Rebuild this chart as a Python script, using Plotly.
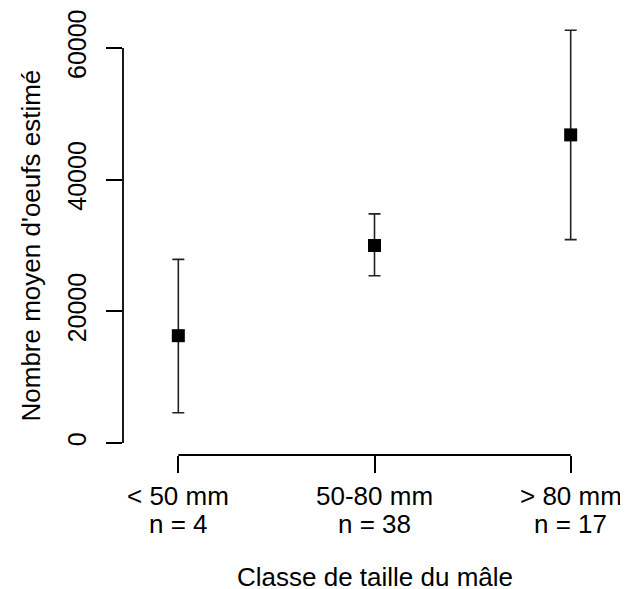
import plotly.graph_objects as go

categories = ["< 50 mm", "50-80 mm", "> 80 mm"]
n_labels = ["n = 4", "n = 38", "n = 17"]
x_pos = [1, 2, 3]
means = [16300, 30000, 46800]
upper = [27900, 34800, 62700]
lower = [4600, 25400, 30900]
y_ticks = [0, 20000, 40000, 60000]

FONT = "Liberation Sans, Arial, sans-serif"
FS = 26

err_plus = [u - m for u, m in zip(upper, means)]
err_minus = [m - l for m, l in zip(means, lower)]

fig = go.Figure()
fig.add_trace(go.Scatter(
    x=x_pos, y=means, mode="markers",
    marker=dict(symbol="square", size=13, color="black", line=dict(width=0)),
    error_y=dict(type="data", symmetric=False, array=err_plus, arrayminus=err_minus,
                 color="#222222", thickness=1.6, width=6),
    showlegend=False,
))

# R-style axis lines spanning only the tick range
fig.add_shape(type="line", xref="paper", yref="y", x0=0, x1=0,
              y0=min(y_ticks), y1=max(y_ticks), line=dict(color="black", width=1.8))
fig.add_shape(type="line", xref="x", yref="paper", x0=min(x_pos), x1=max(x_pos),
              y0=0, y1=0, line=dict(color="black", width=1.8))

# x tick labels (two lines)
for xp, c, n in zip(x_pos, categories, n_labels):
    fig.add_annotation(x=xp, xref="x", y=0, yref="paper", text=c, showarrow=False,
                       yanchor="middle", yshift=-41, font=dict(family=FONT, size=FS, color="black"))
    fig.add_annotation(x=xp, xref="x", y=0, yref="paper", text=n, showarrow=False,
                       yanchor="middle", yshift=-69, font=dict(family=FONT, size=FS, color="black"))

fig.add_annotation(x=x_pos[1], xref="x", y=0, yref="paper", text="Classe de taille du mâle",
                   showarrow=False, yanchor="middle", yshift=-122,
                   font=dict(family=FONT, size=FS, color="black"))
fig.add_annotation(x=0, xref="paper", y=30000, yref="y", text="Nombre moyen d'oeufs estimé",
                   showarrow=False, textangle=-90, xanchor="center", xshift=-93,
                   font=dict(family=FONT, size=FS, color="black"))

fig.update_layout(
    width=620, height=581,
    margin=dict(l=115, r=2, t=7, b=134),
    paper_bgcolor="white", plot_bgcolor="white",
    font=dict(family=FONT, size=FS, color="black"),
    xaxis=dict(range=[0.718, 3.282], tickvals=x_pos, ticktext=["", "", ""],
               ticks="outside", ticklen=17, tickwidth=1.8, tickcolor="black",
               showline=False, showgrid=False, zeroline=False),
    yaxis=dict(range=[-1823, 65013], tickvals=y_ticks, ticktext=[str(v) for v in y_ticks],
               tickangle=-90, ticks="outside", ticklen=16, tickwidth=1.8, tickcolor="black",
               ticklabelstandoff=10,
               showline=False, showgrid=False, zeroline=False,
               tickfont=dict(family=FONT, size=25, color="black")),
)

fig.write_html("out.html")
